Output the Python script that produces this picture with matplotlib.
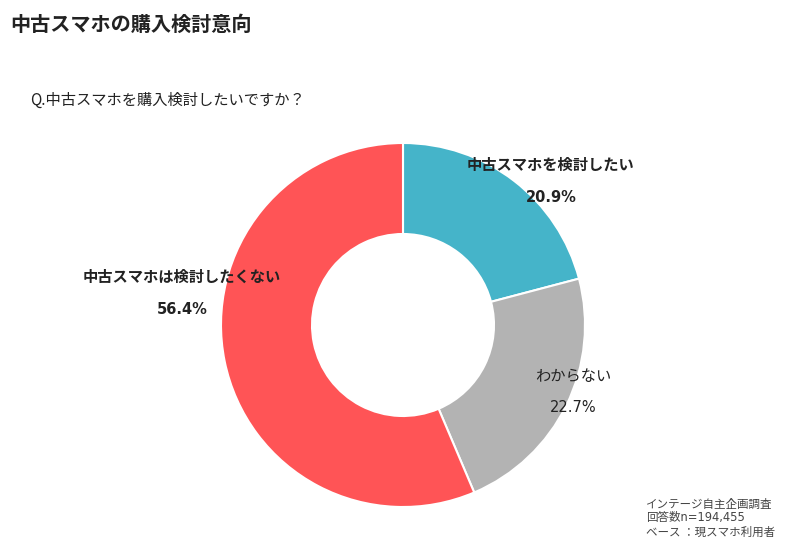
import matplotlib
matplotlib.use("Agg")
import matplotlib.pyplot as plt

plt.rcParams['font.family'] = ['Noto Sans CJK JP', 'DejaVu Sans']
latin_first = ['DejaVu Sans', 'Noto Sans CJK JP']

title = "中古スマホの購入検討意向"
question = "Q.中古スマホを購入検討したいですか？"
labels = ["中古スマホを検討したい", "わからない", "中古スマホは検討したくない"]
values = [20.9, 22.7, 56.4]
colors = ["#45B4C9", "#B3B3B3", "#FF5456"]
label_bold = [True, False, True]
footer = ["インテージ自主企画調査", "回答数n=194,455", "ベース ：現スマホ利用者"]

W, H = 799, 554
fig = plt.figure(figsize=(W / 100, H / 100), dpi=100)
ax = fig.add_axes([0, 0, 1, 1])

cx, cy, R = 403, H - 325, 182
ax.pie(values, colors=colors, startangle=90, counterclock=False,
       center=(cx, cy), radius=R,
       wedgeprops=dict(width=R * 0.5, edgecolor="white", linewidth=1.5))
ax.set_xlim(0, W)
ax.set_ylim(0, H)
ax.set_aspect("equal")
ax.axis("off")

tc = "#222222"
ax.text(10, H - 24, title, fontsize=14.5, fontweight="bold", color=tc, va="center", ha="left")
ax.text(30, H - 100, question, fontsize=11, color=tc, va="center", ha="left")

label_pos = [(551, 165, 197), (573, 377, 407), (182, 277, 310)]
for lab, v, (x, y1, y2), b in zip(labels, values, label_pos, label_bold):
    w = "bold" if b else "normal"
    ax.text(x, H - y1, lab, fontsize=11, fontweight=w, color=tc, ha="center", va="center")
    ax.text(x, H - y2, f"{v}%", fontsize=10.5, fontweight=w, color=tc, ha="center", va="center",
            family=latin_first)

for i, line in enumerate(footer):
    ax.text(646, H - (504 + i * 14), line, fontsize=8.3, color="#444444", ha="left", va="center",
            family=latin_first if i == 1 else None)

fig.savefig("out.png", dpi=100)
